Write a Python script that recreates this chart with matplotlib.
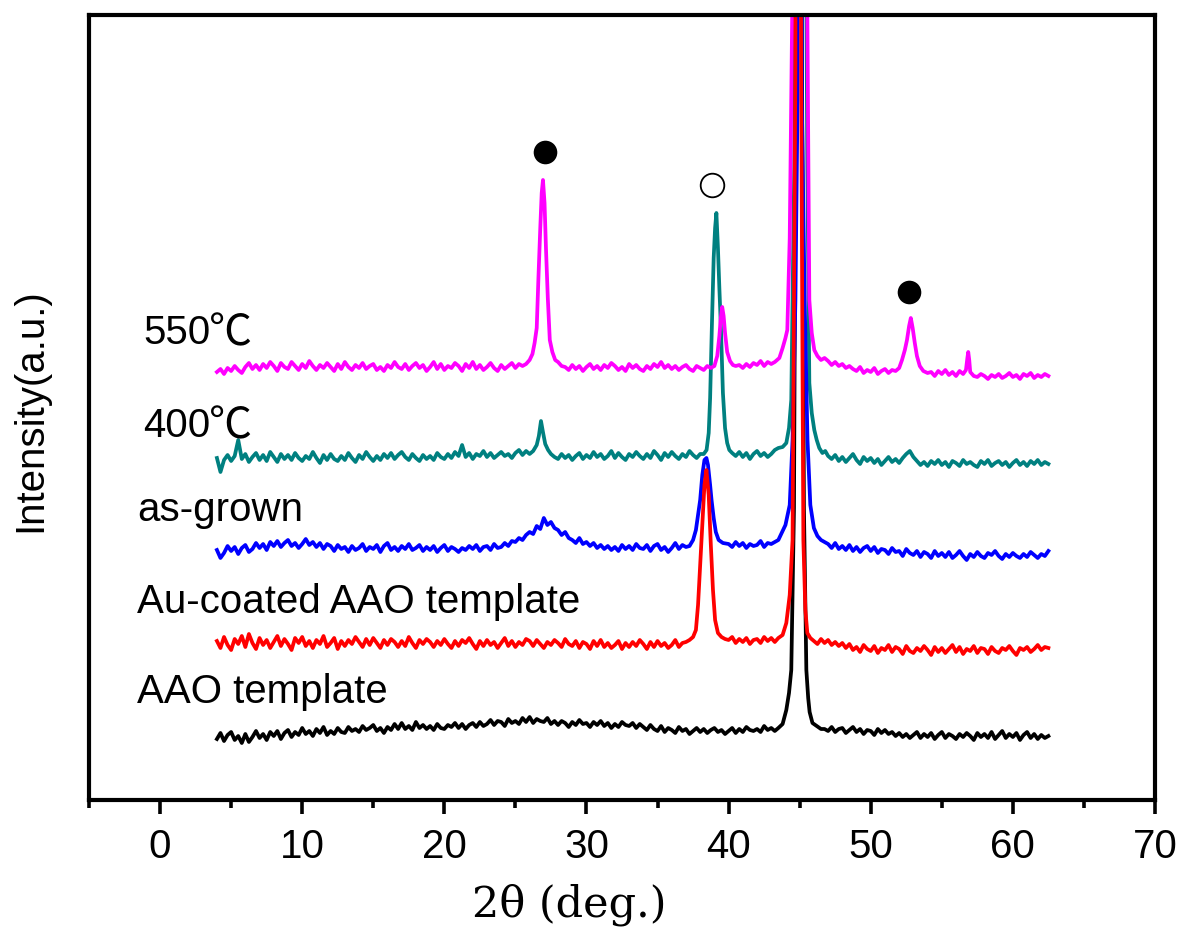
import numpy as np
import matplotlib
matplotlib.use("Agg")
import matplotlib.pyplot as plt

# ---------------- data (intensity in a.u.) ----------------
two_theta_start = 4.0
two_theta_step = 0.25

aao_bg = [
    19, 25, 17, 23,  26, 18, 22, 15,  24, 16, 21, 27,  20, 24, 18, 26,   # 4-7
    22, 27, 19, 25,  28, 21, 26, 23,  30, 24, 27, 22,  29, 25, 31, 23,   # 8-11
    27, 24, 30, 26,  25, 31, 27, 29,  26, 32, 28, 30,  33, 27, 30, 25,   # 12-15
    31, 28, 34, 29,  35, 29, 32, 28,  36, 30, 33, 29,  32, 28, 34, 30,   # 16-19
    29, 33, 31, 35,  30, 34, 29, 33,  35, 31, 36, 32,  34, 38, 33, 37,   # 20-23
    36, 32, 39, 35,  37, 34, 40, 36,  41, 35, 39, 37,  36, 40, 34, 37,   # 24-27
    33, 37, 35, 31,  36, 33, 38, 34,  35, 31, 36, 33,  37, 32, 35, 30,   # 28-31
    34, 31, 36, 33,  32, 35, 30, 34,  31, 28, 33, 29,  27, 32, 26, 30,   # 32-35
    28, 25, 31, 27,  29, 24, 27, 30,  26, 29, 25, 28,  30, 26, 28, 24,   # 36-39
    27, 30, 25, 29,  26, 31, 28, 27,  29, 26, 32, 28,  30, 27, 32, 36,   # 40-43
    40, 55, 90, 300, 300, 90, 50, 40,  36, 33, 31, 29,  27, 31, 26, 29,  # 44-47
    30, 25, 28, 31,  26, 29, 24, 28,  27, 23, 29, 25,  28, 24, 26, 22,   # 48-51
    25, 21, 24, 20,  23, 26, 20, 24,  21, 25, 19, 23,  26, 20, 24, 22,   # 52-55
    19, 24, 21, 25,  22, 18, 25, 21,  24, 20, 26, 19,  23, 27, 20, 24,   # 56-59
    21, 25, 18, 23,  26, 20, 24, 19,  23, 20, 22,                        # 60-62.5
]
aao_peaks = [
    [(43.5, 30), (43.8, 34), (44.06, 48), (44.25, 65), (44.41, 88), (44.6, 250),
     (44.8, 900), (44.95, 3000), (45.1, 900), (45.3, 250), (45.47, 88),
     (45.6, 60), (45.7, 46), (45.9, 35), (46.2, 32), (46.5, 29)],
]

au_bg = [
    24, 17, 28, 20,  15, 26, 21, 29,  18, 31, 22, 16,  27, 20, 25, 17,   # 4-7
    23, 29, 19, 26,  21, 15, 27, 22,  28, 19, 24, 17,  25, 21, 29, 18,   # 8-11
    22, 27, 16, 24,  19, 25, 21, 28,  23, 18, 26, 20,  27, 22, 17, 25,   # 12-15
    20, 26, 23, 18,  24, 19, 28, 22,  17, 25, 21, 26,  23, 18, 24, 20,   # 16-19
    26, 21, 17, 24,  19, 25, 22, 27,  21, 16, 24, 19,  25, 20, 23, 17,   # 20-23
    22, 27, 19, 24,  18, 23, 20, 26,  24, 19, 25, 21,  17, 23, 20, 25,   # 24-27
    22, 18, 26, 21,  19, 24, 17, 23,  21, 16, 24, 19,  25, 18, 22, 17,   # 28-31
    20, 24, 16, 22,  18, 23, 19, 25,  21, 16, 23, 18,  24, 19, 22, 17,   # 32-35
    20, 25, 18, 22,  23, 26, 30, 40,  100, 180, 170, 75,  45, 32, 28, 26, # 36-39
    24, 28, 22, 26,  23, 27, 21, 25,  26, 22, 28, 24,  27, 23, 29, 28,   # 40-43
    40, 60, 125, 600, 600, 125, 32, 27,  24, 21, 26, 22,  25, 20, 23, 19, # 44-47
    22, 17, 21, 15,  18, 13, 20, 16,  14, 19, 12, 17,  15, 20, 13, 18,   # 48-51
    16, 11, 19, 14,  12, 17, 14, 19,  15, 10, 18, 13,  17, 12, 16, 20,   # 52-55
    13, 18, 11, 16,  14, 19, 12, 17,  16, 11, 18, 14,  12, 17, 15, 19,   # 56-59
    14, 10, 17, 15,  18, 13, 16, 20,  15, 18, 17,                        # 60-62.5
]
au_peaks = [
    [(37.0, 23), (37.25, 25), (37.5, 28), (37.7, 35), (37.85, 60), (38.0, 100),
     (38.15, 140), (38.3, 180), (38.44, 195), (38.6, 170), (38.75, 120),
     (38.9, 75), (39.05, 45), (39.25, 32), (39.5, 28), (39.75, 26), (40.0, 25)],
    [(43.5, 27), (43.8, 30), (44.06, 42), (44.3, 70), (44.5, 125), (44.7, 600),
     (44.9, 3000), (45.1, 600), (45.26, 125), (45.4, 55), (45.54, 32),
     (45.75, 27), (46.0, 24)],
]

asgrown_bg = [
    20, 12, 17, 24,  19, 23, 16, 22,  25, 18, 21, 27,  22, 26, 20, 28,   # 4-7
    24, 29, 23, 27,  30, 24, 27, 22,  26, 31, 25, 28,  23, 27, 21, 26,   # 8-11
    24, 19, 25, 21,  23, 18, 24, 20,  22, 26, 19, 23,  21, 25, 18, 24,   # 12-15
    27, 20, 23, 19,  24, 21, 26, 20,  22, 25, 19, 23,  20, 24, 18, 22,   # 16-19
    25, 19, 23, 21,  18, 22, 20, 24,  21, 25, 19, 23,  24, 20, 26, 22,   # 20-23
    23, 27, 24, 29,  28, 32, 30, 35,  38, 36, 44, 41,  52, 45, 48, 42,   # 24-27
    40, 35, 38, 32,  30, 27, 32, 26,  28, 24, 27, 22,  25, 21, 24, 20,   # 28-31
    23, 19, 25, 21,  24, 20, 26, 22,  21, 25, 19, 24,  26, 20, 23, 18,   # 32-35
    22, 27, 21, 25,  23, 24, 30, 40,  70, 110, 105, 70,  38, 30, 27, 26, # 36-39
    26, 23, 28, 24,  27, 22, 26, 24,  25, 29, 23, 27,  26, 28, 30, 38,   # 40-43
    45, 130, 470, 470, 470, 130, 65, 45,  42, 34, 30, 28,  26, 22, 27, 21, # 44-47
    24, 20, 25, 19,  23, 18, 22, 24,  19, 23, 17, 21,  20, 16, 22, 18,   # 48-51
    19, 14, 21, 17,  15, 19, 13, 18,  16, 12, 19, 14,  17, 13, 18, 12,   # 52-55
    15, 19, 14, 10,  16, 13, 18, 14,  12, 17, 15, 19,  14, 11, 16, 13,   # 56-59
    17, 14, 12, 16,  13, 18, 15, 12,  16, 14, 19,                        # 60-62.5
]
asgrown_peaks = [
    [(37.25, 24), (37.5, 30), (37.7, 40), (37.85, 55), (38.0, 70), (38.15, 95),
     (38.3, 110), (38.44, 112), (38.55, 105), (38.7, 85), (38.8, 70),
     (38.95, 52), (39.1, 38), (39.3, 30), (39.6, 27), (40.0, 26)],
    [(43.5, 30), (44.0, 45), (44.3, 65), (44.5, 130), (44.7, 270), (44.85, 470),
     (45.0, 3000), (45.15, 470), (45.35, 270), (45.55, 130), (45.75, 65),
     (46.0, 42), (46.25, 34), (46.5, 30)],
]

t400_bg = [
    20, 6, 18, 23,  17, 22, 38, 19,  24, 16, 21, 25,  18, 23, 17, 26,    # 4-7
    21, 16, 24, 19,  23, 18, 25, 20,  17, 22, 19, 26,  20, 15, 23, 18,   # 8-11
    24, 19, 17, 22,  18, 25, 20, 16,  23, 19, 26, 21,  17, 22, 18, 24,   # 12-15
    20, 25, 19, 23,  26, 21, 18, 24,  20, 17, 23, 19,  22, 18, 25, 21,   # 16-19
    19, 24, 20, 26,  22, 33, 21, 25,  19, 24, 22, 27,  21, 25, 20, 23,   # 20-23
    26, 22, 24, 20,  25, 28, 23, 27,  24, 28, 33, 50,  45, 30, 24, 21,   # 24-27
    19, 24, 20, 23,  18, 22, 25, 19,  23, 20, 26, 21,  24, 19, 22, 27,   # 28-31
    20, 25, 21, 18,  24, 21, 26, 22,  19, 24, 20, 27,  23, 18, 25, 21,   # 32-35
    26, 22, 19, 24,  21, 27, 23, 20,  24, 22, 28, 80,  250, 200, 85, 35, # 36-39
    28, 25, 22, 26,  21, 25, 19, 24,  27, 22, 25, 21,  24, 28, 30, 31,   # 40-43
    35, 78, 311, 3000, 3000, 311, 65, 48,  38, 28, 25, 27,  22, 19, 23, 17, # 44-47
    21, 16, 20, 24,  18, 14, 21, 17,  20, 15, 19, 13,  17, 21, 16, 19,   # 48-51
    15, 20, 24, 27,  21, 17, 13, 16,  12, 17, 14, 18,  13, 16, 11, 17,   # 52-55
    15, 12, 18, 14,  16, 13, 11, 17,  14, 18, 12, 15,  17, 13, 16, 11,   # 56-59
    15, 18, 13, 16,  12, 17, 14, 18,  13, 16, 14,                        # 60-62.5
]
t400_peaks = [
    [(26.25, 27), (26.5, 33), (26.65, 42), (26.8, 57), (26.95, 45), (27.1, 34),
     (27.3, 28), (27.5, 24)],
    [(38.25, 24), (38.45, 28), (38.6, 45), (38.7, 80), (38.82, 150), (38.95, 220),
     (39.05, 250), (39.14, 265), (39.25, 230), (39.35, 190), (39.46, 150),
     (39.6, 85), (39.75, 50), (39.9, 35), (40.05, 28), (40.25, 25)],
    [(43.5, 30), (43.8, 31), (44.06, 35), (44.25, 50), (44.41, 78), (44.62, 311),
     (44.8, 900), (45.05, 3000), (45.3, 900), (45.54, 311), (45.68, 95),
     (45.85, 65), (46.03, 48), (46.2, 38), (46.38, 30), (46.6, 25), (46.8, 27),
     (47.0, 22)],
]

t550_bg = [
    16, 19, 14, 20,  17, 22, 18, 15,  21, 25, 19, 23,  18, 24, 20, 26,   # 4-7
    22, 17, 25, 21,  19, 26, 22, 18,  24, 20, 27, 22,  18, 23, 20, 25,   # 8-11
    21, 17, 24, 19,  26, 21, 18, 23,  20, 25, 19, 22,  24, 18, 21, 17,   # 12-15
    23, 20, 26, 21,  19, 24, 18, 22,  25, 20, 23, 17,  21, 26, 19, 24,   # 16-19
    18, 22, 20, 25,  22, 17, 24, 20,  26, 19, 23, 18,  21, 25, 20, 17,   # 20-23
    23, 19, 22, 25,  20, 24, 22, 24,  28, 45, 60, 160,  208, 140, 55, 28, # 24-27
    26, 22, 21, 18,  23, 19, 22, 17,  21, 24, 19, 22,  18, 23, 20, 25,   # 28-31
    22, 18, 21, 17,  24, 20, 23, 19,  17, 22, 19, 24,  21, 26, 20, 23,   # 32-35
    19, 22, 18, 21,  23, 19, 17, 22,  20, 18, 22, 20,  22, 40, 75, 45,   # 36-39
    27, 23, 22, 23,  20, 24, 21, 25,  23, 27, 22, 26,  24, 26, 28, 46,   # 40-43
    52, 200, 700, 3000, 3000, 300, 38, 32,  28, 30, 27, 23,  27, 23, 26, 22, # 44-47
    24, 20, 22, 19,  17, 21, 15, 18,  16, 20, 14, 17,  19, 15, 18, 17,   # 48-51
    20, 32, 50, 65,  50, 28, 18, 16,  15, 16, 12, 17,  14, 18, 13, 16,   # 52-55
    12, 17, 14, 25,  16, 12, 11, 14,  12, 9, 13, 11,  14, 10, 12, 15,    # 56-59
    11, 13, 9, 14,  12, 15, 10, 13,  11, 14, 12,                         # 60-62.5
]
t550_peaks = [
    [(25.75, 24), (26.0, 28), (26.2, 34), (26.35, 45), (26.5, 60), (26.62, 110),
     (26.75, 160), (26.85, 195), (26.94, 208), (27.05, 185), (27.15, 140),
     (27.28, 90), (27.42, 48), (27.6, 36), (27.8, 28), (28.0, 26), (28.25, 22)],
    [(38.75, 20), (39.0, 22), (39.2, 32), (39.35, 52), (39.45, 70), (39.55, 81),
     (39.65, 72), (39.75, 55), (39.9, 36), (40.1, 27), (40.3, 23), (40.5, 22)],
    [(43.25, 26), (43.57, 30), (43.8, 40), (44.0, 50), (44.13, 58), (44.3, 150),
     (44.48, 373), (44.7, 1000), (45.0, 3000), (45.3, 1000), (45.54, 373),
     (45.68, 88), (45.85, 55), (46.03, 38), (46.25, 32), (46.5, 28), (46.75, 30)],
    [(51.75, 17), (52.0, 20), (52.2, 28), (52.4, 38), (52.55, 48), (52.7, 62),
     (52.82, 70), (52.95, 60), (53.1, 45), (53.25, 32), (53.45, 22), (53.7, 17),
     (54.0, 15)],
    [(56.5, 14), (56.7, 18), (56.8, 30), (56.86, 36), (56.93, 28), (57.0, 16),
     (57.25, 12)],
]

series_names = ["AAO template", "Au-coated AAO template", "as-grown", "400", "550"]
series_units = ["", "", "", "\u2103", "\u2103"]
series_bg = [aao_bg, au_bg, asgrown_bg, t400_bg, t550_bg]
series_peaks = [aao_peaks, au_peaks, asgrown_peaks, t400_peaks, t550_peaks]
series_offsets = [42, 135, 230, 322, 412]
series_colors = ["#000000", "#FF0000", "#0000FF", "#008080", "#FF00FF"]
draw_order = [0, 3, 4, 2, 1]

# phase markers: filled = one phase, open = other
marker_x = [27.1, 38.85, 52.7]
marker_y = [648, 615, 508]
marker_filled = [True, False, True]

x_ticks = [0, 10, 20, 30, 40, 50, 60, 70]


def assemble(bg, peaks):
    x = two_theta_start + two_theta_step * np.arange(len(bg))
    y = np.asarray(bg, dtype=float)
    keep = np.ones(len(x), dtype=bool)
    px, py = [], []
    for pk in peaks:
        xs = [p[0] for p in pk]
        ys = [p[1] for p in pk]
        keep &= ~((x >= xs[0] - 1e-9) & (x <= xs[-1] + 1e-9))
        px += xs
        py += ys
    X = np.concatenate([x[keep], np.array(px)])
    Y = np.concatenate([y[keep], np.array(py, dtype=float)])
    o = np.argsort(X, kind="stable")
    return X[o], Y[o]


W, H = 1200, 939
fig = plt.figure(figsize=(W / 100, H / 100), dpi=100)
ax = fig.add_axes([89 / W, 1 - 800 / H, (1155 - 89) / W, (800 - 15) / H])

for i in draw_order:
    X, Y = assemble(series_bg[i], series_peaks[i])
    ax.plot(X, Y + series_offsets[i], color=series_colors[i], lw=2.7,
            solid_joinstyle="round")

for mx, my, mf in zip(marker_x, marker_y, marker_filled):
    ax.plot([mx], [my], "o", ms=17,
            mfc="black" if mf else "white", mec="black",
            mew=0 if mf else 1.3, zorder=5)

ax.set_xlim(-5, 70)
ax.set_ylim(0, 785)
ax.set_xticks(x_ticks)
ax.set_xticks([-5, 5, 15, 25, 35, 45, 55, 65], minor=True)
ax.set_yticks([])
for s in ax.spines.values():
    s.set_linewidth(3)
ax.tick_params(axis="x", which="major", direction="out", length=10, width=2.6,
               pad=10, labelsize=29)
ax.tick_params(axis="x", which="minor", direction="out", length=5.5, width=2.6)
for lab in ax.get_xticklabels():
    lab.set_fontfamily(["Liberation Sans", "DejaVu Sans"])

lab_font = ["Liberation Sans", "DejaVu Sans"]
label_pos = [(137, 703), (137, 613), (137, 521), (143, 437), (143, 344)]
for name, unit, (lx, ly) in zip(series_names, series_units, label_pos):
    t = fig.text(lx / W, 1 - ly / H, name, fontsize=29, family=lab_font,
                 ha="left", va="baseline")
    if unit:
        fig.text((lx + 66) / W, 1 - (ly + 1) / H, unit, fontsize=31,
                 family=["Noto Sans CJK SC", "DejaVu Sans"],
                 ha="left", va="baseline")

fig.text(30 / W, 1 - 410 / H, "Intensity(a.u.)", rotation=90, fontsize=29,
         family=["Liberation Sans", "DejaVu Sans"], ha="center", va="center")
fig.text(569 / W, 1 - 905 / H, "2\u03b8 (deg.)", fontsize=31,
         family=["DejaVu Serif", "Liberation Serif"], ha="center", va="center")

fig.savefig("out.png", dpi=100)
